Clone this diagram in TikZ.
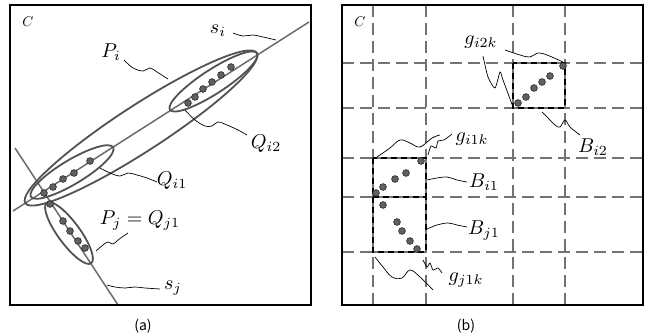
\documentclass[tikz,border=0pt]{standalone}
\usepackage{fontspec}
\newfontfamily\captfont{Noto Sans CJK JP}
\begin{document}
\begin{tikzpicture}[x=1pt,y=-1pt,
 frame/.style={line width=2.8pt, draw=black},
 sline/.style={line width=1.5pt, draw=black!58},
 ell/.style={line width=1.8pt, draw=black!68},
 dot/.style={circle, fill=black!62, draw=black!85, line width=0.6pt, inner sep=0pt, minimum size=6.8pt},
 leader/.style={line width=0.7pt, draw=black},
 gridl/.style={line width=2.6pt, draw=black!55, dash pattern=on 12pt off 6pt},
 boxg/.style={line width=2pt, draw=black!55},
 boxk/.style={line width=1.2pt, draw=black, dash pattern=on 6pt off 4pt},
 lab/.style={inner sep=0pt, scale=2},
 small/.style={inner sep=0pt, scale=1.4},
 capt/.style={inner sep=0pt, font=\captfont\fontsize{14}{16}\selectfont},
]
\useasboundingbox (0,0) rectangle (648,334);

%% ---------------- panel (a) ----------------
\coordinate (si1) at (13,211); \coordinate (si2) at (309,22);
\coordinate (sj1) at (15,148); \coordinate (sj2) at (118,305);
\draw[sline] (si1) -- (si2);
\draw[sline] (sj1) -- (sj2);

\draw[ell, rotate around={33:(141,128)}] (141,128) ellipse (138pt and 23pt);
\draw[ell, rotate around={31:(72,172)}] (72,172) ellipse (48pt and 12pt);
\draw[ell, rotate around={33:(213.5,81.5)}] (213.5,81.5) ellipse (52pt and 12pt);
\draw[ell, rotate around={-53.7:(69,233)}] (69,233) ellipse (37.5pt and 11pt);

\foreach \x/\y [count=\k] in {44/193,53/187,63/179,74/173,90/161}
  \node[dot] (qa\k) at (\x,\y) {};
\foreach \x/\y [count=\k] in {188/103,195/97,203/89,212/82,221/75,231/67}
  \node[dot] (qb\k) at (\x,\y) {};
\foreach \x/\y [count=\k] in {50/204,63/221,70/231,78/241,85/248}
  \node[dot] (qc\k) at (\x,\y) {};

\draw[frame] (10,5) rectangle (311,305);

\node[small] (ca) at (28,22) {$C$};
\node[lab] (Pi) at (111,52) {$P_i$};
\node[lab] (si) at (218,31) {$s_i$};
\node[lab] (Qi2) at (266,144) {$Q_{i2}$};
\node[lab] (Qi1) at (172,181) {$Q_{i1}$};
\node[lab] (Pj) at (140,221) {$P_j = Q_{j1}$};
\node[lab] (sj) at (173,288) {$s_j$};
\node[capt] (capa) at (143,326) {(a)};

\draw[leader] plot[smooth, tension=0.6] coordinates {(124,60) (133,68) (143,71) (150,68) (157,72) (168,79)};
\draw[leader] plot[smooth, tension=0.6] coordinates {(233,33) (243,36) (253,35) (263,37) (276,40)};
\draw[leader] plot[smooth, tension=0.6] coordinates {(185,110) (195,120) (205,126) (212,126) (218,122) (227,125) (238,130) (247,135)};
\draw[leader] plot[smooth, tension=0.6] coordinates {(100,168) (110,173) (120,176) (128,173) (137,175) (147,178) (157,182)};
\draw[leader] plot[smooth, tension=0.6] coordinates {(96,251) (103,245) (108,242) (113,244) (118,240) (128,233)};
\draw[leader] plot[smooth, tension=0.6] coordinates {(107,285) (115,287) (125,288) (135,287) (145,288) (160,289)};

%% ---------------- panel (b) ----------------
\foreach \x in {373,426,513,565}
  \draw[gridl] (\x,5) -- (\x,305);
\foreach \y in {63,108,158,197,252}
  \draw[gridl] (342,\y) -- (643,\y);

\foreach \a/\b/\c/\d [count=\k] in {513/63/565/108,373/158/426/197,373/197/426/252}{
  \draw[boxg] (\a,\b) rectangle (\c,\d);
  \draw[boxk] (\a,\b) rectangle (\c,\d);
}

\foreach \x/\y [count=\k] in {518/103,526/97,534/88,542/82,550/76,563/66}
  \node[dot] (ga\k) at (\x,\y) {};
\foreach \x/\y [count=\k] in {376/193,383/187,395/179,406/173,421/161}
  \node[dot] (gb\k) at (\x,\y) {};
\foreach \x/\y [count=\k] in {383/205,397/222,402/231,410/241,417/249}
  \node[dot] (gc\k) at (\x,\y) {};

\draw[frame] (342,5) rectangle (643,305);

\node[small] (cb) at (360,22) {$C$};
\node[lab] (gi2k) at (481,42) {$g_{i2k}$};
\node[lab] (Bi2) at (593,147) {$B_{i2}$};
\node[lab] (gi1k) at (472,139) {$g_{i1k}$};
\node[lab] (Bi1) at (484,182) {$B_{i1}$};
\node[lab] (Bj1) at (484,231) {$B_{j1}$};
\node[lab] (gj1k) at (466,280) {$g_{j1k}$};
\node[capt] (capb) at (466,326) {(b)};

\draw[leader] plot[smooth, tension=0.6] coordinates {(505,50) (520,55) (530,57) (538,53) (547,55) (563,62)};
\draw[leader] plot[smooth, tension=0.4] coordinates {(483,56) (488,77) (495,88) (500,72) (503,80) (513,107)};
\draw[leader] plot[smooth, tension=0.6] coordinates {(542,112) (548,118) (555,125) (560,127) (565,120) (570,127) (580,135)};
\draw[leader] plot[smooth, tension=0.6] coordinates {(377,157) (390,148) (400,140) (410,143) (420,147) (432,138) (440,135)};
\draw[leader] plot[smooth, tension=0.4] coordinates {(428,155) (431,146) (436,148) (438,141) (444,140) (452,134)};
\draw[leader] plot[smooth, tension=0.6] coordinates {(427,180) (437,178) (447,177) (457,180) (467,182)};
\draw[leader] plot[smooth, tension=0.6] coordinates {(427,229) (437,225) (448,223) (457,225) (467,227)};
\draw[leader] plot[smooth, tension=0.6] coordinates {(375,257) (383,267) (392,277) (402,278) (410,270) (420,277) (433,290)};
\draw[leader] plot[smooth, tension=0.4] coordinates {(423,260) (427,267) (430,263) (433,270) (438,268) (442,273)};
\end{tikzpicture}
\end{document}
